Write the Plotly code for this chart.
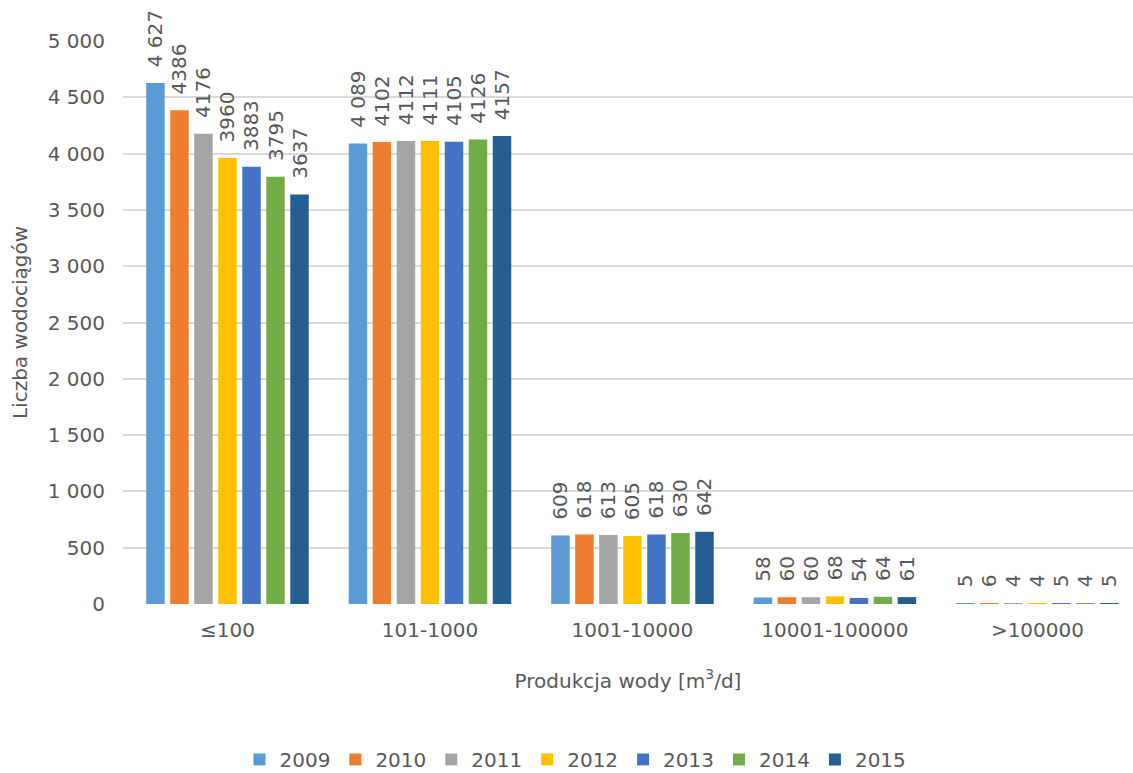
import plotly.graph_objects as go

# Water-supply systems by daily production class, 2009-2015
categories = ["≤100", "101-1000", "1001-10000", "10001-100000", ">100000"]
years = ["2009", "2010", "2011", "2012", "2013", "2014", "2015"]
values = {
    "2009": [4627, 4089, 609, 58, 5],
    "2010": [4386, 4102, 618, 60, 6],
    "2011": [4176, 4112, 613, 60, 4],
    "2012": [3960, 4111, 605, 68, 4],
    "2013": [3883, 4105, 618, 54, 5],
    "2014": [3795, 4126, 630, 64, 4],
    "2015": [3637, 4157, 642, 61, 5],
}
colors = {
    "2009": "#5B9BD5",
    "2010": "#ED7D31",
    "2011": "#A5A5A5",
    "2012": "#FFC000",
    "2013": "#4472C4",
    "2014": "#70AD47",
    "2015": "#255E91",
}
y_ticks = [0, 500, 1000, 1500, 2000, 2500, 3000, 3500, 4000, 4500, 5000]

FONT = "'DejaVu Sans', sans-serif"
GREY = "#595959"
PAD = "\u00a0\u00a0"  # keeps the rotated value labels a little above the bars


def label(year, v):
    # the 2009 series uses a space as thousands separator
    if year == "2009":
        s = f"{v:,}".replace(",", " ")
    else:
        s = str(v)
    return PAD + s


fig = go.Figure()
for yr in years:
    fig.add_trace(go.Bar(
        x=categories,
        y=values[yr],
        name=yr,
        marker=dict(color=colors[yr], line=dict(width=0)),
        text=[label(yr, v) for v in values[yr]],
        textposition="outside",
        textangle=-90,
        constraintext="none",
        textfont=dict(family=FONT, size=20, color=GREY),
        cliponaxis=False,
    ))

fig.update_layout(
    width=1133,
    height=773,
    barmode="group",
    bargap=0.17,
    bargroupgap=0.23,
    separators=", ",
    plot_bgcolor="white",
    paper_bgcolor="white",
    font=dict(family=FONT, color=GREY, size=20),
    margin=dict(l=123, r=0, t=41, b=169, autoexpand=False),
    legend=dict(
        orientation="h",
        x=0.448, xanchor="center",
        y=-0.276, yanchor="middle",
        font=dict(size=20, color=GREY),
        itemwidth=30,
        traceorder="normal",
    ),
    xaxis=dict(
        title=dict(text="Produkcja wody [m<sup>3</sup>/d]", font=dict(size=20, color=GREY), standoff=32),
        tickfont=dict(size=20, color=GREY),
        range=[-0.516, 4.472],
        showline=False,
        showgrid=False,
        ticks="",
        ticklabelstandoff=12,
    ),
    yaxis=dict(
        title=dict(text="Liczba wodociągów", font=dict(size=20, color=GREY), standoff=14),
        range=[0, 5000],
        tickvals=y_ticks,
        tickformat=",d",
        tickfont=dict(size=20, color=GREY),
        showgrid=True, gridcolor="#D9D9D9", gridwidth=1.5,
        zeroline=False,
        ticks="",
        ticklabelstandoff=17,
    ),
)

fig.write_html("out.html")
